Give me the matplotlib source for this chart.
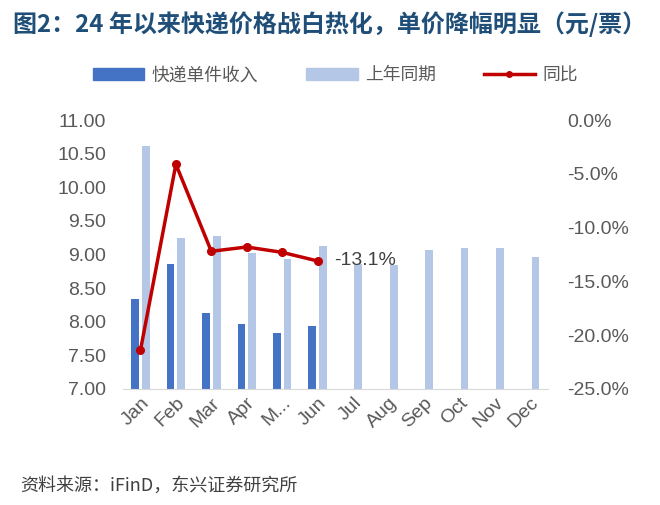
import numpy as np
import matplotlib.pyplot as plt
from matplotlib.lines import Line2D
from matplotlib.patches import Patch

plt.rcParams['font.family'] = ['Noto Sans CJK SC', 'DejaVu Sans']
num_font = ['Liberation Sans', 'DejaVu Sans']

months = ['Jan', 'Feb', 'Mar', 'Apr', 'M...', 'Jun', 'Jul', 'Aug', 'Sep', 'Oct', 'Nov', 'Dec']
price_2024 = [8.34, 8.86, 8.13, 7.97, 7.83, 7.94]
price_2023 = [10.62, 9.25, 9.27, 9.03, 8.93, 9.13, 8.86, 8.85, 9.06, 9.10, 9.09, 8.96]
yoy = [-21.4, -4.1, -12.2, -11.8, -12.3, -13.1]

dark = '#4472C4'
light = '#B4C7E7'
red = '#C00000'
gray = '#595959'

fig = plt.figure(figsize=(6.6, 5.05), dpi=100)
ax = fig.add_axes([0.186, 0.23, 0.644, 0.532])

x = np.arange(len(months))
w = 0.22
ax.bar(x[:len(price_2024)] - 0.15, price_2024, width=w, color=dark, zorder=2)
ax.bar(x + 0.15, price_2023, width=w, color=light, zorder=2)

ax.set_ylim(7.0, 11.0)
yt = np.arange(7.0, 11.01, 0.5)
ax.set_yticks(yt)
ax.set_yticklabels([f'{v:.2f}' for v in yt], family=num_font)
ax.set_xlim(-0.5, len(months) - 0.5)
ax.set_xticks(x)
ax.set_xticklabels(months, rotation=45, ha='right', rotation_mode='anchor', family=num_font)

for s in ['top', 'left', 'right']:
    ax.spines[s].set_visible(False)
ax.spines['bottom'].set_color('#D9D9D9')
ax.tick_params(axis='y', length=0, labelsize=14, colors=gray, pad=12)
ax.tick_params(axis='x', length=0, labelsize=14, colors=gray, pad=4)

ax2 = ax.twinx()
ax2.plot(x[:len(yoy)], yoy, color=red, lw=2.5, marker='o', ms=5.5, zorder=3)
ax2.set_ylim(-25, 0)
rt = np.arange(-25, 0.1, 5)
ax2.set_yticks(rt)
ax2.set_yticklabels([f'{v:.1f}%' for v in rt], family=num_font)
for s in ax2.spines.values():
    s.set_visible(False)
ax2.tick_params(axis='y', length=0, labelsize=14, colors=gray, pad=14)
ax2.annotate(f'{yoy[-1]:.1f}%', xy=(x[len(yoy) - 1], yoy[-1]), xytext=(12, 0),
             textcoords='offset points', va='center', ha='left', fontsize=14,
             color='#404040', family=num_font)

fig.text(0.02, 0.952, '图2：24 年以来快递价格战白热化，单价降幅明显（元/票）',
         fontsize=17.3, fontweight='bold', color='#1F4E79', va='center')

handles = [Patch(color=dark), Patch(color=light),
           Line2D([0], [0], color=red, lw=2.5, marker='o', ms=4)]
fig.legend(handles, ['快递单件收入', '上年同期', '同比'], loc='center',
           bbox_to_anchor=(0.508, 0.851), ncol=3, frameon=False, fontsize=12.8,
           handlelength=2.9, handleheight=0.6, columnspacing=2.7, handletextpad=0.4,
           labelcolor=gray)

fig.text(0.03, 0.038, '资料来源：iFinD，东兴证券研究所', fontsize=13,
         style='italic', color='#404040', va='center')

fig.savefig('out.png', dpi=100)
